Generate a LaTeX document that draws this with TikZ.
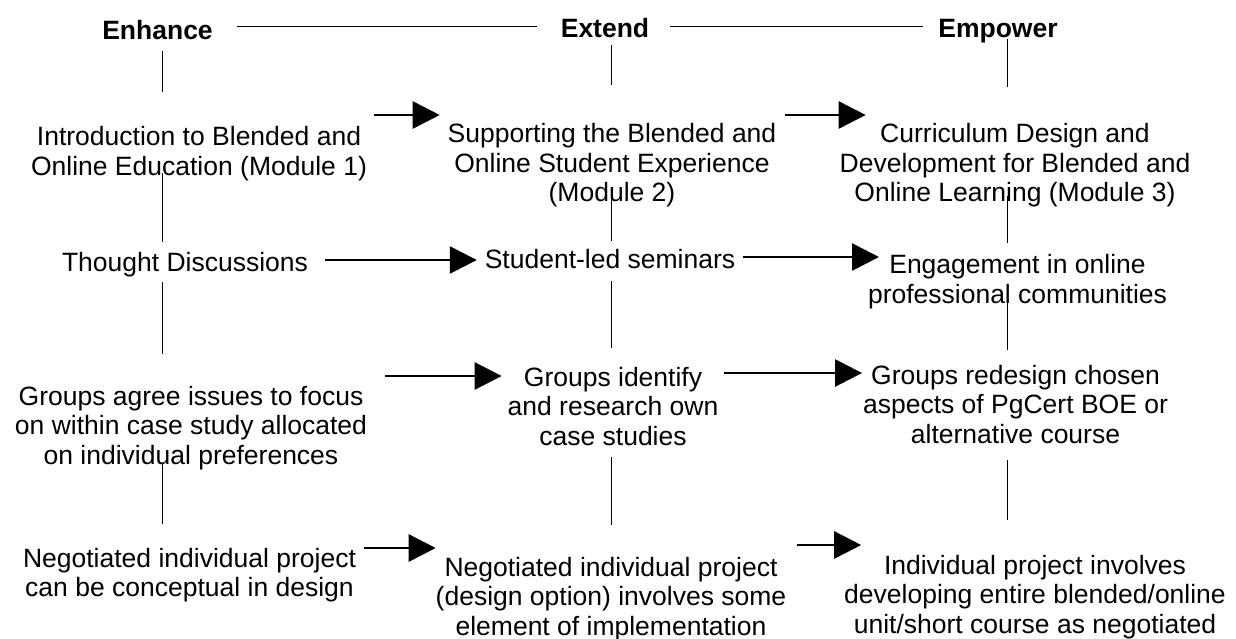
\documentclass[tikz,border=0pt]{standalone}
\usepackage{fontspec}
\setmainfont{Liberation Sans}
\usetikzlibrary{arrows.meta,calc}
\begin{document}
\begin{tikzpicture}[x=1pt,y=-1pt,
  txt/.style={inner sep=0pt,outer sep=0pt,align=center,font=\fontsize{26.5}{29.5}\selectfont},
  head/.style={inner sep=0pt,outer sep=0pt,anchor=base,font=\fontsize{26.5}{29.5}\selectfont\bfseries},
  vline/.style={line width=1.5pt},
  hline/.style={line width=1.3pt},
  arr/.style={line width=2.6pt,-{Triangle[length=27pt,width=27pt]}}]
\useasboundingbox (0,0) rectangle (1236,638);
\clip (0,0) rectangle (1236,638);

% column axes and row levels for the connectors
\coordinate (c1) at (162.5,0);
\coordinate (c2) at (611.5,0);
\coordinate (c3) at (1007.5,0);
\coordinate (rT) at (0,26.5);
\coordinate (r1) at (0,115);
\coordinate (r2a) at (0,260);
\coordinate (r2b) at (0,257);
\coordinate (r3a) at (0,376);
\coordinate (r3b) at (0,373);
\coordinate (r4a) at (0,548);
\coordinate (r4b) at (0,545);

% headings
\node[head] (enh) at (157.5,39) {Enhance};
\node[head] (ext) at (605,37) {Extend};
\node[head] (emp) at (998,37) {Empower};

% modules
\node[txt] (intro) at (199,153.6) {Introduction to Blended and\\Online Education (Module 1)};
\node[txt] (supp) at (612,165.4) {Supporting the Blended and\\Online Student Experience\\(Module 2)};
\node[txt] (curr) at (1015,165.4) {Curriculum Design and\\Development for Blended and\\Online Learning (Module 3)};

% activities
\node[txt] (thought) at (185,265) {Thought Discussions};
\node[txt] (sls) at (610,259) {Student-led seminars};
\node[txt] (engage) at (1017.5,281.5) {Engagement in online\\professional communities};

% group work
\node[txt] (gagree) at (191,428) {Groups agree issues to focus\\on within case study allocated\\on individual preferences};
\node[txt] (gident) at (613,406.5) {Groups identify\\and research own\\case studies};
\node[txt] (gredes) at (1015.5,404.5) {Groups redesign chosen\\aspects of PgCert BOE or\\alternative course};

% individual projects
\node[txt] (neg1) at (189.5,575) {Negotiated individual project\\can be conceptual in design};
\node[txt] (neg2) at (611,599) {Negotiated individual project\\(design option) involves some\\element of implementation};
\node[txt] (indiv) at (1035,597) {Individual project involves\\developing entire blended/online\\unit/short course as negotiated};

% heading rule
\draw[hline] ($(enh.east |- rT)+(24,0)$) -- ($(ext.west |- rT)+(-24,0)$);
\draw[hline] ($(ext.east |- rT)+(21,0)$) -- ($(emp.west |- rT)+(-15,0)$);

% column 1
\draw[vline] ($(c1 |- enh.base)+(0,12)$) -- ($(c1 |- intro.north)+(0,-35)$);
\draw[vline] ($(c1 |- intro.south)+(0,-8)$) -- ($(c1 |- thought.north)+(0,-11)$);
\draw[vline] ($(c1 |- thought.south)+(0,5)$) -- ($(c1 |- gagree.north)+(0,-32)$);
\draw[vline] ($(c1 |- gagree.south)+(0,-7)$) -- ($(c1 |- neg1.north)+(0,-24)$);

% column 2
\draw[vline] ($(c2 |- ext.base)+(0,8)$) -- ($(c2 |- supp.north)+(0,-39)$);
\draw[vline] ($(c2 |- supp.south)+(0,-11)$) -- ($(c2 |- sls.north)+(0,-8)$);
\draw[vline] ($(c2 |- sls.south)+(0,12.5)$) -- ($(c2 |- gident.north)+(0,-19)$);
\draw[vline] ($(c2 |- gident.south)+(0,11)$) -- ($(c2 |- neg2.north)+(0,-32)$);

% column 3
\draw[vline] ($(c3 |- emp.base)+(0,2)$) -- ($(c3 |- curr.north)+(0,-37)$);
\draw[vline] ($(c3 |- curr.south)+(0,-11)$) -- ($(c3 |- engage.north)+(0,-11)$);
\draw[vline] ($(c3 |- engage.south)+(0,-12)$) -- ($(c3 |- gredes.north)+(0,-15)$);
\draw[vline] ($(c3 |- gredes.south)+(0,16)$) -- ($(c3 |- indiv.north)+(0,-35)$);

% progression arrows
\draw[arr] ($(intro.east |- r1)+(7,0)$) -- ($(supp.west |- r1)+(-8,0)$);
\draw[arr] ($(supp.east |- r1)+(9,0)$) -- ($(curr.west |- r1)+(26,0)$);
\draw[arr] ($(thought.east |- r2a)+(17,0)$) -- ($(sls.west |- r2a)+(-8,0)$);
\draw[arr] ($(sls.east |- r2b)+(8,0)$) -- ($(engage.west |- r2b)+(11,0)$);
\draw[arr] ($(gagree.east |- r3a)+(18,0)$) -- ($(gident.west |- r3a)+(-6,0)$);
\draw[arr] ($(gident.east |- r3b)+(6,0)$) -- ($(gredes.west |- r3b)+(-1,0)$);
\draw[arr] ($(neg1.east |- r4a)+(8,0)$) -- ($(neg2.west |- r4a)+(0,0)$);
\draw[arr] ($(neg2.east |- r4b)+(11,0)$) -- ($(indiv.west |- r4b)+(17,0)$);
\end{tikzpicture}
\end{document}
